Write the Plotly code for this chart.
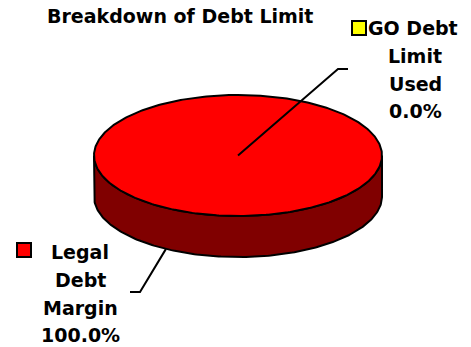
import numpy as np
import plotly.graph_objects as go

# ---------------- data ----------------
title_text = "Breakdown of Debt Limit"
categories = ["Legal Debt Margin", "GO Debt Limit Used"]
values = [100.0, 0.0]
label_lines = [["Legal", "Debt", "Margin"], ["GO Debt", "Limit", "Used"]]
colors_top = ["#FF0000", "#FFFF00"]
colors_side = ["#800000", "#808000"]

# ---------------- layout / geometry (pixel-like axis units) ----------------
W, H = 471, 347
cx, cy = 238.0, 155.5      # top-face centre
ra, rb = 144.0, 60.5       # ellipse semi-axes
depth = 41.0               # thickness of the 3D pie
FONT = "DejaVu Sans, Verdana, sans-serif"
FS = 19
LW = 2

total = sum(values)
fracs = [v / total for v in values]
starts = np.cumsum([0] + fracs[:-1]) * 2 * np.pi
ends = np.cumsum(fracs) * 2 * np.pi


def ex(t):
    return cx + ra * np.sin(t)


def ey(t, off=0.0):
    return cy - rb * np.cos(t) + off


fig = go.Figure()

# side walls (front half only: angles pi/2 .. 3pi/2)
for i, (t0, t1) in enumerate(zip(starts, ends)):
    a0, a1 = max(t0, np.pi / 2), min(t1, 3 * np.pi / 2)
    if a1 <= a0:
        continue
    t = np.linspace(a0, a1, 200)
    xs = np.concatenate([ex(t), ex(t[::-1])])
    ys = np.concatenate([ey(t), ey(t[::-1], depth)])
    fig.add_trace(go.Scatter(x=np.append(xs, xs[0]), y=np.append(ys, ys[0]),
                             mode="lines", fill="toself", fillcolor=colors_side[i],
                             line=dict(color="black", width=LW), hoverinfo="skip",
                             showlegend=False))

# top faces
for i, (t0, t1) in enumerate(zip(starts, ends)):
    if t1 - t0 <= 1e-9:
        continue
    t = np.linspace(t0, t1, 400)
    if t1 - t0 >= 2 * np.pi - 1e-9:
        xs, ys = ex(t), ey(t)
    else:
        xs = np.concatenate([[cx], ex(t), [cx]])
        ys = np.concatenate([[cy], ey(t), [cy]])
    fig.add_trace(go.Scatter(x=xs, y=ys, mode="lines", fill="toself",
                             fillcolor=colors_top[i],
                             line=dict(color="black", width=LW), hoverinfo="skip",
                             showlegend=False))

# leader lines: anchor on the pie -> elbow -> end near label
anchor_deg = [210, None]          # None = centre of top face (0% slice)
elbows = [(140, 292), (338, 69)]
line_ends = [(130, 292), (348, 69)]
for i in range(len(values)):
    if anchor_deg[i] is None:
        ax_, ay_ = cx, cy
    else:
        t = np.deg2rad(anchor_deg[i])
        ax_, ay_ = ex(t), ey(t, depth)
    fig.add_trace(go.Scatter(x=[ax_, elbows[i][0], line_ends[i][0]],
                             y=[ay_, elbows[i][1], line_ends[i][1]],
                             mode="lines", line=dict(color="black", width=LW),
                             hoverinfo="skip", showlegend=False))

annotations = []
shapes = []
# title
annotations.append(dict(x=180, y=16, xref="x", yref="y", text="<b>" + title_text + "</b>",
                        showarrow=False, font=dict(family=FONT, size=FS, color="black"),
                        xanchor="center", yanchor="middle"))

label_x = [80, 415]
label_y0 = [252, 28]
line_gap = 27.8
key_pos = [(17, 243), (352, 21)]
first_line_x = [80, 413]
for i in range(len(values)):
    lines = label_lines[i] + ["%.1f%%" % (fracs[i] * 100)]
    for j, ln in enumerate(lines):
        x = first_line_x[i] if j == 0 else label_x[i]
        annotations.append(dict(x=x, y=label_y0[i] + j * line_gap, xref="x", yref="y",
                                text="<b>" + ln + "</b>", showarrow=False,
                                font=dict(family=FONT, size=FS, color="black"),
                                xanchor="center", yanchor="middle"))
    kx, ky = key_pos[i]
    shapes.append(dict(type="rect", xref="x", yref="y", x0=kx, x1=kx + 14, y0=ky, y1=ky + 14,
                       fillcolor=colors_top[i], line=dict(color="black", width=2)))

fig.update_layout(
    width=W, height=H,
    margin=dict(l=0, r=0, t=0, b=0),
    paper_bgcolor="white", plot_bgcolor="white",
    xaxis=dict(range=[0, W], visible=False, fixedrange=True),
    yaxis=dict(range=[H, 0], visible=False, fixedrange=True),
    annotations=annotations, shapes=shapes,
    showlegend=False,
)

fig.write_html("out.html", config={"displayModeBar": False, "staticPlot": True},
               post_script="document.body.style.margin='0';document.body.style.overflow='hidden';")
